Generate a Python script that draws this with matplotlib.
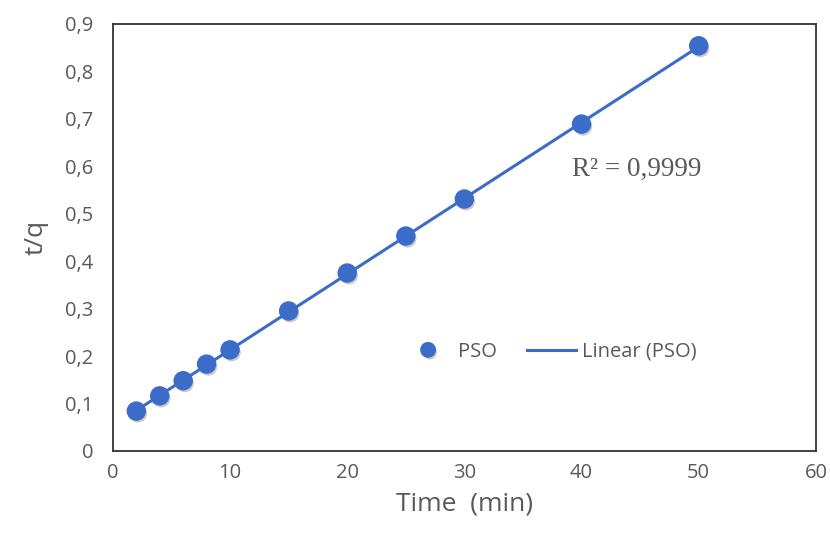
import numpy as np
import matplotlib.pyplot as plt
import matplotlib.patheffects as pe
from matplotlib.ticker import FuncFormatter

plt.rcParams['font.family'] = ['Open Sans', 'DejaVu Sans']

# PSO-Daten
zeit = [2, 4, 6, 8, 10, 15, 20, 25, 30, 40, 50]
t_q = [0.084, 0.116, 0.148, 0.183, 0.213, 0.295, 0.375, 0.453, 0.531, 0.689, 0.854]
r2_text = "R² = 0,9999"

blau = '#3b6cc8'
grau = '#595959'

fig = plt.figure(figsize=(8.3, 5.33), dpi=100)
ax = fig.add_axes([0.136, 0.154, 0.847, 0.801])

# Lineare Trendlinie
m, b = np.polyfit(zeit, t_q, 1)
x_fit = np.array([min(zeit), max(zeit)])
ax.plot(x_fit, m * x_fit + b, color=blau, lw=2.2, label='Linear (PSO)', zorder=2)

schatten = [pe.SimplePatchShadow(offset=(1.2, -1.8), alpha=0.3, shadow_rgbFace='#555555'), pe.Normal()]
ax.plot(zeit, t_q, 'o', color=blau, ms=13, label='PSO', zorder=3, path_effects=schatten)

ax.set_xlim(0, 60)
ax.set_ylim(0, 0.9)
ax.set_xticks(range(0, 61, 10))
ax.set_yticks(np.arange(0, 0.91, 0.1))
ax.yaxis.set_major_formatter(FuncFormatter(lambda v, p: '0' if abs(v) < 1e-9 else f'{v:.1f}'.replace('.', ',')))
ax.tick_params(length=0, labelsize=14.5, labelcolor=grau)
ax.tick_params(axis='y', pad=14)
ax.tick_params(axis='x', pad=9)
for s in ax.spines.values():
    s.set_color('#333333')
    s.set_linewidth(1.3)

ax.set_xlabel('Time  (min)', fontsize=19, color=grau, labelpad=6)
ax.set_ylabel('t/q', fontsize=19, color=grau, labelpad=12)

ax.text(39.2, 0.593, r2_text, fontsize=19.5, color=grau, va='center',
        family=['Liberation Serif', 'DejaVu Serif'])

handles, labels = ax.get_legend_handles_labels()
ax.legend(handles[::-1], labels[::-1], ncol=2, frameon=False, fontsize=14.5,
          labelcolor=grau, loc='center', bbox_to_anchor=(0.622, 0.232),
          handlelength=2.4, handletextpad=0.3, columnspacing=1.5, markerscale=0.8)

fig.savefig('out.png', dpi=100)
